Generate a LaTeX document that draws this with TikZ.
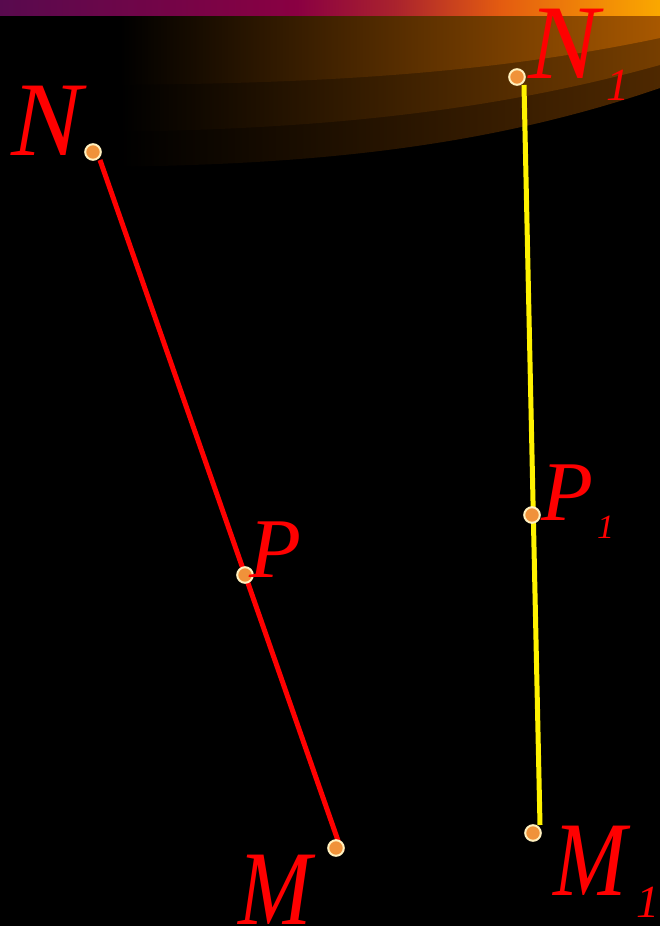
\documentclass[tikz,border=0pt]{standalone}
\usepackage{fontspec}
\setmainfont{Liberation Serif}
\definecolor{sA}{RGB}{88,10,78}
\definecolor{sB}{RGB}{138,0,66}
\definecolor{sC}{RGB}{170,35,45}
\definecolor{sD}{RGB}{228,92,16}
\definecolor{sE}{RGB}{250,168,0}
\definecolor{gA2}{RGB}{168,88,0}
\definecolor{gB2}{RGB}{118,62,0}
\definecolor{gC2}{RGB}{78,40,0}
\definecolor{dotfill}{RGB}{240,146,58}
\definecolor{dotring}{RGB}{255,240,190}
\pgfdeclarehorizontalshading{stripsh}{100bp}{color(0bp)=(sA); color(25bp)=(sA); color(47.5bp)=(sB); color(55bp)=(sC); color(63bp)=(sD); color(75bp)=(sE); color(100bp)=(sE)}
\pgfdeclarehorizontalshading{glowA}{100bp}{color(0bp)=(black); color(26.8bp)=(black); color(75bp)=(gA2); color(100bp)=(gA2)}
\pgfdeclarehorizontalshading{glowB}{100bp}{color(0bp)=(black); color(26.8bp)=(black); color(75bp)=(gB2); color(100bp)=(gB2)}
\pgfdeclarehorizontalshading{glowC}{100bp}{color(0bp)=(black); color(26.8bp)=(black); color(75bp)=(gC2); color(100bp)=(gC2)}
\begin{document}
\begin{tikzpicture}[x=1pt,y=-1pt,
  ptdot/.style={circle, fill=dotfill, draw=dotring, line width=2pt, minimum size=15.6pt, inner sep=0pt},
  biglbl/.style={text=red, font=\fontsize{106}{110}\selectfont\itshape, anchor=base west, inner sep=0pt},
  midlbl/.style={text=red, font=\fontsize{85}{90}\selectfont\itshape, anchor=base west, inner sep=0pt},
  sublbl/.style={text=red, font=\fontsize{46}{50}\selectfont\itshape, anchor=base west, inner sep=0pt},
  smallsub/.style={text=red, font=\fontsize{34}{38}\selectfont\itshape, anchor=base west, inner sep=0pt},
  redseg/.style={draw=red, line width=5pt},
  yelseg/.style={draw=yellow, line width=5pt}]
\fill[black] (0,0) rectangle (660,926);
\useasboundingbox (0,0) rectangle (660,926);
% glow bands
\shade[shading=glowC] (100,15) -- (660,15) -- (660,88) .. controls (480,150) and (300,165) .. (100,167) -- cycle;
\shade[shading=glowB] (100,15) -- (660,15) -- (660,65) .. controls (480,115) and (300,130) .. (100,132) -- cycle;
\shade[shading=glowA] (100,15) -- (660,15) -- (660,38) .. controls (480,76) and (300,84) .. (100,85) -- cycle;
% top strip
\shade[shading=stripsh] (0,0) rectangle (660,15);
% segment ends
\coordinate (rTop) at (100,160);
\coordinate (rBot) at (342,852);
\coordinate (yTop) at (524,85);
\coordinate (yBot) at (540,825);
\draw[redseg] (rTop) -- (rBot);
\draw[yelseg] (yTop) -- (yBot);
% points
\node[ptdot] (N) at (93,152) {};
\node[ptdot] (P) at (245,575) {};
\node[ptdot] (M) at (336,848) {};
\node[ptdot] (N1) at (517,77) {};
\node[ptdot] (P1) at (532,515) {};
\node[ptdot] (M1) at (533,833) {};
% labels
\node[biglbl] (lN) at (11,155) {N};
\node[biglbl] (lN1) at (528,78) {N};
\node[sublbl] (lN1s) at (606,100) {1};
\node[midlbl] (lP) at (249,577) {P};
\node[midlbl] (lP1) at (541,520) {P};
\node[smallsub] (lP1s) at (597,538) {1};
\node[biglbl] (lM) at (238,924) {\scalebox{0.83}[1]{M}};
\node[biglbl] (lM1) at (553,895) {\scalebox{0.83}[1]{M}};
\node[sublbl] (lM1s) at (636,917) {1};
\end{tikzpicture}
\end{document}
